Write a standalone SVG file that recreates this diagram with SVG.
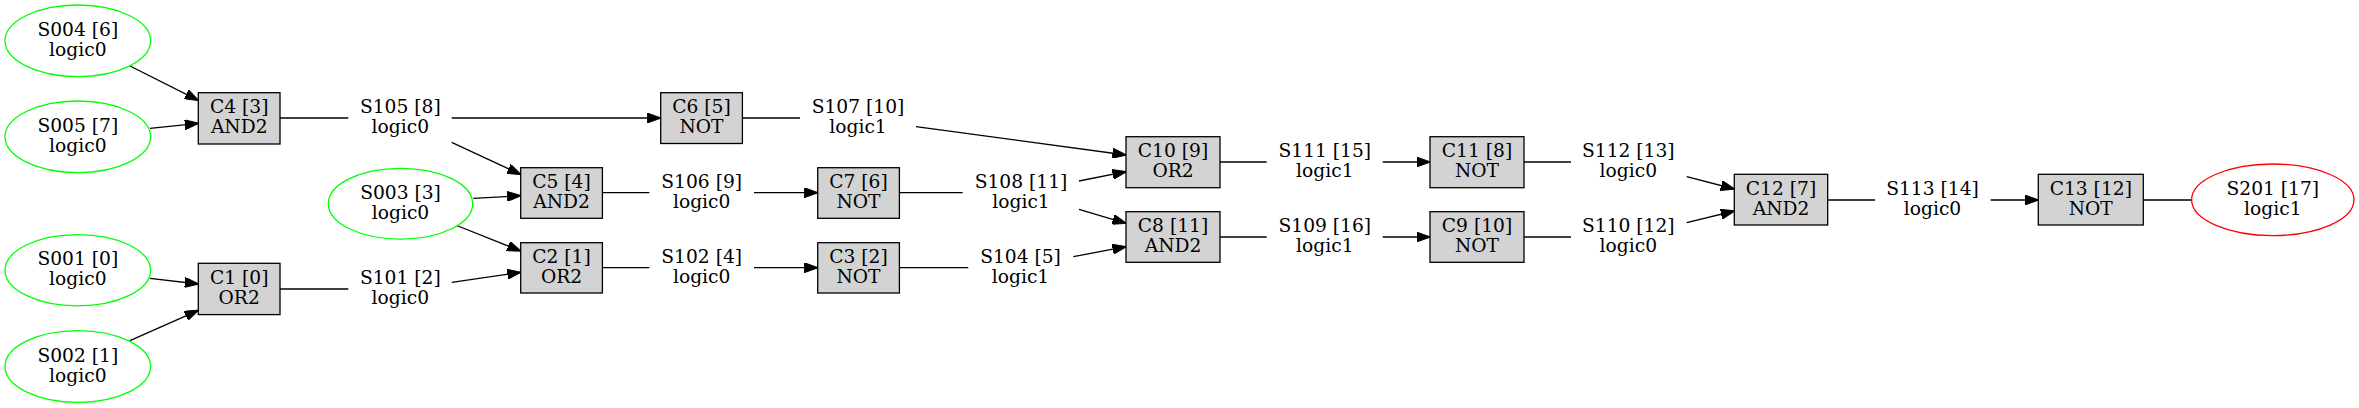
<svg xmlns="http://www.w3.org/2000/svg" width="2359" height="408" viewBox="0 0 2359 408">
<style>
text{font-family:"DejaVu Serif","Liberation Serif",serif;font-size:18.67px;text-anchor:middle;fill:#000}
.box{fill:#d3d3d3;stroke:#000;stroke-width:1.3}
.src{fill:none;stroke:#00ff00;stroke-width:1.3}
.dst{fill:none;stroke:#ff0000;stroke-width:1.3}
.e{fill:none;stroke:#000;stroke-width:1.3}
.a{marker-end:url(#arr)}
</style>
<defs>
<marker id="arr" markerUnits="userSpaceOnUse" markerWidth="14" markerHeight="10" refX="13.5" refY="5" orient="auto"><path d="M0,0 L14,5 L0,10 z" fill="#000" stroke="#000" stroke-width="1"/></marker>
</defs>
<rect width="2359" height="408" fill="#fff"/>
<g id="connectors">
<path class="e a" d="M130,66 L198.3,100.3"/>
<path class="e a" d="M150,128.3 L198.3,123.3"/>
<path class="e a" d="M150,278.3 L198.3,284"/>
<path class="e a" d="M130,340.7 L198.3,310.3"/>
<path class="e" d="M280,118 L348.3,118"/>
<path class="e" d="M280,289 L348.3,289"/>
<path class="e a" d="M451.7,118 L660.7,118"/>
<path class="e a" d="M451.7,142.3 L520.7,174.5"/>
<path class="e a" d="M473.3,198.3 L520.7,195.7"/>
<path class="e a" d="M456.7,225.5 L520.7,251"/>
<path class="e a" d="M451.7,282.3 L520.7,272.3"/>
<path class="e" d="M742.3,118 L800,118"/>
<path class="e" d="M602.3,192.7 L649.3,192.7"/>
<path class="e" d="M602.3,267.7 L649.3,267.7"/>
<path class="e a" d="M754,192.7 L817.7,192.7"/>
<path class="e a" d="M754,267.7 L817.7,267.7"/>
<path class="e" d="M899.3,192.7 L962.7,192.7"/>
<path class="e" d="M899.3,267.7 L968.3,267.7"/>
<path class="e a" d="M916,126.7 L1126,155"/>
<path class="e a" d="M1079,181 L1126,171.7"/>
<path class="e a" d="M1079,209.3 L1126,223.3"/>
<path class="e a" d="M1073.3,256.7 L1126,246.7"/>
<path class="e" d="M1220,162 L1266.7,162"/>
<path class="e" d="M1220,237 L1266.7,237"/>
<path class="e a" d="M1382.7,162 L1430,162"/>
<path class="e a" d="M1382.7,237 L1430,237"/>
<path class="e" d="M1524,162 L1571,162"/>
<path class="e" d="M1524,237 L1571,237"/>
<path class="e a" d="M1686.7,176.7 L1734.3,189"/>
<path class="e a" d="M1686.7,222.7 L1734.3,211"/>
<path class="e" d="M1827.7,200 L1875,200"/>
<path class="e a" d="M1990.7,200 L2038.3,200"/>
<path class="e" d="M2143.3,200 L2191.7,200"/>
</g>
<g id="S004"><ellipse class="src" cx="77.8" cy="40.8" rx="72.8" ry="35.8"/><text x="77.8" y="35.8">S004 [6]</text><text x="77.8" y="55.8">logic0</text></g>
<g id="S005"><ellipse class="src" cx="77.8" cy="136.8" rx="72.8" ry="35.8"/><text x="77.8" y="131.8">S005 [7]</text><text x="77.8" y="151.8">logic0</text></g>
<g id="S001"><ellipse class="src" cx="77.8" cy="270.2" rx="72.8" ry="35.6"/><text x="77.8" y="265.2">S001 [0]</text><text x="77.8" y="285.2">logic0</text></g>
<g id="S002"><ellipse class="src" cx="77.8" cy="366.5" rx="72.8" ry="35.8"/><text x="77.8" y="361.5">S002 [1]</text><text x="77.8" y="381.5">logic0</text></g>
<g id="S003"><ellipse class="src" cx="400.5" cy="203.7" rx="72.2" ry="35.4"/><text x="400.5" y="198.7">S003 [3]</text><text x="400.5" y="218.7">logic0</text></g>
<g id="C4"><rect class="box" x="198.3" y="92.7" width="81.7" height="51.3"/><text x="239.2" y="113.3">C4 [3]</text><text x="239.2" y="133.3">AND2</text></g>
<g id="C1"><rect class="box" x="198.3" y="263.3" width="81.7" height="51.3"/><text x="239.2" y="284">C1 [0]</text><text x="239.2" y="304">OR2</text></g>
<g id="S105"><text x="400.3" y="113">S105 [8]</text><text x="400.3" y="133">logic0</text></g>
<g id="S101"><text x="400.3" y="284">S101 [2]</text><text x="400.3" y="304">logic0</text></g>
<g id="C6"><rect class="box" x="660.7" y="92.7" width="81.7" height="50.8"/><text x="701.5" y="113">C6 [5]</text><text x="701.5" y="133">NOT</text></g>
<g id="C5"><rect class="box" x="520.7" y="167.7" width="81.7" height="50.6"/><text x="561.5" y="187.7">C5 [4]</text><text x="561.5" y="207.7">AND2</text></g>
<g id="C2"><rect class="box" x="520.7" y="242.7" width="81.7" height="50.3"/><text x="561.5" y="262.7">C2 [1]</text><text x="561.5" y="282.7">OR2</text></g>
<g id="S107"><text x="858" y="113">S107 [10]</text><text x="858" y="133">logic1</text></g>
<g id="S106"><text x="701.7" y="187.7">S106 [9]</text><text x="701.7" y="207.7">logic0</text></g>
<g id="S102"><text x="701.7" y="262.7">S102 [4]</text><text x="701.7" y="282.7">logic0</text></g>
<g id="C7"><rect class="box" x="817.7" y="167.7" width="81.7" height="50.6"/><text x="858.5" y="187.7">C7 [6]</text><text x="858.5" y="207.7">NOT</text></g>
<g id="C3"><rect class="box" x="817.7" y="242.7" width="81.7" height="50.3"/><text x="858.5" y="262.7">C3 [2]</text><text x="858.5" y="282.7">NOT</text></g>
<g id="S108"><text x="1021" y="187.7">S108 [11]</text><text x="1021" y="207.7">logic1</text></g>
<g id="S104"><text x="1020.5" y="262.7">S104 [5]</text><text x="1020.5" y="282.7">logic1</text></g>
<g id="C10"><rect class="box" x="1126" y="136.7" width="94" height="51"/><text x="1173" y="157">C10 [9]</text><text x="1173" y="177">OR2</text></g>
<g id="C8"><rect class="box" x="1126" y="211.7" width="94" height="50.6"/><text x="1173" y="232">C8 [11]</text><text x="1173" y="252">AND2</text></g>
<g id="S111"><text x="1324.8" y="157">S111 [15]</text><text x="1324.8" y="177">logic1</text></g>
<g id="S109"><text x="1324.8" y="232">S109 [16]</text><text x="1324.8" y="252">logic1</text></g>
<g id="C11"><rect class="box" x="1430" y="136.7" width="94" height="51"/><text x="1477" y="157">C11 [8]</text><text x="1477" y="177">NOT</text></g>
<g id="C9"><rect class="box" x="1430" y="211.7" width="94" height="50.6"/><text x="1477" y="232">C9 [10]</text><text x="1477" y="252">NOT</text></g>
<g id="S112"><text x="1628.3" y="157">S112 [13]</text><text x="1628.3" y="177">logic0</text></g>
<g id="S110"><text x="1628.3" y="232">S110 [12]</text><text x="1628.3" y="252">logic0</text></g>
<g id="C12"><rect class="box" x="1734.3" y="174.3" width="93.4" height="50.7"/><text x="1781" y="194.7">C12 [7]</text><text x="1781" y="214.7">AND2</text></g>
<g id="S113"><text x="1932.5" y="195">S113 [14]</text><text x="1932.5" y="215">logic0</text></g>
<g id="C13"><rect class="box" x="2038.3" y="174.3" width="105" height="50.7"/><text x="2090.8" y="194.7">C13 [12]</text><text x="2090.8" y="214.7">NOT</text></g>
<g id="S201"><ellipse class="dst" cx="2272.8" cy="199.8" rx="81.2" ry="35.8"/><text x="2272.8" y="194.8">S201 [17]</text><text x="2272.8" y="214.8">logic1</text></g>
</svg>
